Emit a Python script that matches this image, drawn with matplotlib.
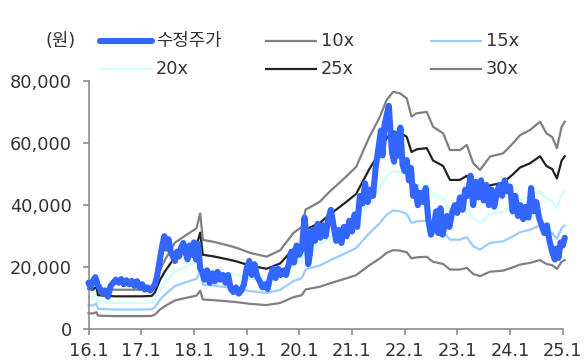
import matplotlib
matplotlib.use("Agg")
import matplotlib.pyplot as plt
from matplotlib.lines import Line2D
import numpy as np

plt.rcParams['font.family'] = ['DejaVu Sans', 'Noto Sans CJK KR']

# x positions are years elapsed since Jan 2016
tick_labels = ["16.1", "17.1", "18.1", "19.1", "20.1", "21.1", "22.1", "23.1", "24.1", "25.1"]

# trailing EPS (원) used for the PER bands
eps_t = [0.00, 0.08, 0.15, 0.18, 0.50, 1.00, 1.20, 1.26, 1.36, 1.45, 1.64, 1.86, 2.05, 2.12,
         2.17, 2.37, 2.62, 2.81, 3.07, 3.38, 3.64, 3.89, 4.05, 4.12, 4.39, 4.58, 4.89, 5.08,
         5.33, 5.52, 5.66, 5.78, 5.91, 6.04, 6.13, 6.23, 6.42, 6.54, 6.73, 6.86, 7.05, 7.18,
         7.30, 7.43, 7.62, 7.87, 8.06, 8.19, 8.38, 8.57, 8.69, 8.80, 8.89, 8.98, 9.04]
eps = [520, 510, 550, 440, 425, 425, 430, 475, 640, 745, 930, 1015, 1085, 1245,
       960, 940, 905, 875, 820, 780, 850, 1035, 1100, 1285, 1370, 1480, 1640, 1745,
       2065, 2270, 2465, 2550, 2535, 2480, 2285, 2320, 2335, 2175, 2105, 1925, 1925, 1980,
       1785, 1710, 1855, 1890, 2000, 2085, 2140, 2230, 2105, 2065, 1945, 2175, 2230]

multiples = [10, 15, 20, 25, 30]
band_names = ["10x", "15x", "20x", "25x", "30x"]
band_colors = ["#808080", "#99CCFF", "#CCFFFF", "#222222", "#808080"]

# adjusted share price (원)
price_t = [0.00, 0.04, 0.08, 0.13, 0.17, 0.22, 0.27, 0.32, 0.37, 0.42, 0.47, 0.52, 0.57, 0.62,
           0.67, 0.72, 0.77, 0.82, 0.87, 0.92, 0.97, 1.02, 1.07, 1.12, 1.17, 1.22, 1.26, 1.30,
           1.35, 1.40, 1.44, 1.48, 1.52, 1.56, 1.60, 1.64, 1.68, 1.72, 1.76, 1.80, 1.84, 1.88,
           1.92, 1.96, 2.00, 2.04, 2.08, 2.12, 2.16, 2.20, 2.25, 2.30, 2.35, 2.40, 2.45, 2.50,
           2.55, 2.60, 2.65, 2.70, 2.75, 2.80, 2.85, 2.90, 2.95, 3.00, 3.05, 3.10, 3.15, 3.20,
           3.25, 3.30, 3.35, 3.40, 3.45, 3.50, 3.55, 3.60, 3.65, 3.70, 3.75, 3.80, 3.85, 3.90,
           3.95, 4.00, 4.05, 4.10, 4.13, 4.17, 4.20, 4.25, 4.30, 4.35, 4.40, 4.45, 4.50, 4.55,
           4.60, 4.65, 4.70, 4.75, 4.80, 4.85, 4.90, 4.95, 5.00, 5.05, 5.10, 5.15, 5.20, 5.25,
           5.30, 5.35, 5.40, 5.45, 5.50, 5.55, 5.58, 5.62, 5.66, 5.70, 5.73, 5.76, 5.80, 5.84,
           5.88, 5.92, 5.96, 6.00, 6.04, 6.08, 6.12, 6.16, 6.20, 6.25, 6.30, 6.35, 6.40, 6.45,
           6.50, 6.55, 6.60, 6.64, 6.68, 6.72, 6.76, 6.80, 6.85, 6.90, 6.95, 7.00, 7.05, 7.10,
           7.15, 7.20, 7.25, 7.30, 7.35, 7.40, 7.45, 7.50, 7.55, 7.60, 7.65, 7.70, 7.75, 7.80,
           7.85, 7.90, 7.95, 8.00, 8.05, 8.10, 8.15, 8.20, 8.25, 8.30, 8.35, 8.40, 8.45, 8.50,
           8.55, 8.60, 8.65, 8.70, 8.75, 8.80, 8.85, 8.88, 8.92, 8.96, 9.00, 9.04]
price = [15000, 13500, 15500, 16800, 14500, 13000, 11500, 12500, 10500, 14000, 15000, 16000, 15000, 16200,
         14500, 15800, 14500, 15600, 14000, 15500, 13500, 14500, 12800, 13500, 12500, 13500, 14500, 17000,
         22000, 27000, 30000, 26000, 29000, 25000, 23500, 22000, 25000, 23500, 26500, 27800, 25000, 22500,
         27000, 24000, 28000, 22500, 27500, 19500, 18500, 16000, 19000, 15000, 18000, 15500, 18500, 16000,
         17500, 15000, 17500, 13000, 12000, 13500, 11500, 12500, 14500, 19500, 22000, 17500, 21000, 17000,
         15500, 13500, 14500, 13000, 17000, 19500, 16500, 19500, 17500, 19000, 17500, 21000, 25000, 21500,
         27000, 24000, 26000, 36000, 31000, 21000, 24000, 32000, 28500, 34000, 29500, 33500, 30000, 35500,
         38500, 33500, 28500, 32000, 27800, 33000, 30000, 35000, 31500, 37000, 33000, 43000, 40500, 47000,
         41000, 45000, 43000, 52000, 58000, 64000, 56000, 66000, 69000, 72000, 64000, 57000, 54000, 63000,
         56000, 65000, 53000, 51000, 54500, 48000, 52000, 43000, 46000, 40000, 44000, 41000, 45500, 35000,
         30500, 33000, 38000, 31000, 39000, 30500, 33500, 36500, 33000, 37500, 40000, 37500, 42500, 38500,
         45000, 43000, 49500, 40000, 47500, 42500, 48000, 41500, 46500, 40000, 45000, 39500, 44000, 46500,
         43000, 48000, 44500, 46000, 38000, 43000, 36500, 40000, 35500, 39500, 36000, 45500, 38000, 41000,
         36000, 33500, 31000, 33500, 28500, 25000, 22500, 26000, 23000, 28000, 27000, 29500]

W, H = 585, 363
fig = plt.figure(figsize=(W / 100, H / 100), dpi=100)
ax = fig.add_axes([88.5 / W, 1 - 329.3 / H, (562.7 - 88.5) / W, (329.3 - 81) / H])

price_color = "#3366FF"
eps_arr = np.array(eps, dtype=float)
for m, name, c in zip(multiples, band_names, band_colors):
    ax.plot(eps_t, eps_arr * m, color=c, lw=1.6, clip_on=False, zorder=2)

ax.plot(price_t, price, color=price_color, lw=4.4, solid_capstyle="round",
        solid_joinstyle="round", clip_on=False, zorder=3)

ax.set_xlim(0, 9)
ax.set_ylim(0, 80000)
ax.set_xticks(range(len(tick_labels)))
ax.set_xticklabels(tick_labels)
ax.set_yticks([0, 20000, 40000, 60000, 80000])
ax.set_yticklabels(["0", "20,000", "40,000", "60,000", "80,000"])

for s in ["top", "right"]:
    ax.spines[s].set_visible(False)
for s in ["left", "bottom"]:
    ax.spines[s].set_color("#8c8c8c")
    ax.spines[s].set_linewidth(1.2)
ax.tick_params(axis="both", colors="#8c8c8c", length=4, width=1.2, labelsize=12.8,
               labelcolor="#333333")
ax.tick_params(axis="y", pad=8)
ax.tick_params(axis="x", pad=5)

txt_kw = dict(fontsize=12.8, color="#333333", va="center")
fig.text(61 / W, 1 - 41 / H, "(원)", ha="center", **txt_kw)

# legend drawn by hand: three columns, two rows
legend_items = [
    ("수정주가", price_color, 4.4, 100, 41),
    ("10x", band_colors[0], 1.6, 265, 41),
    ("15x", band_colors[1], 1.6, 430, 41),
    ("20x", band_colors[2], 1.6, 100, 69),
    ("25x", band_colors[3], 1.6, 265, 69),
    ("30x", band_colors[4], 1.6, 430, 69),
]
for label, c, lw, x0, y0 in legend_items:
    yy = 1 - y0 / H
    fig.add_artist(Line2D([x0 / W, (x0 + 52) / W], [yy, yy], color=c, lw=lw,
                          solid_capstyle="round" if lw > 3 else "butt"))
    fig.text((x0 + 56) / W, yy, label, ha="left", **txt_kw)

fig.savefig("out.png", dpi=100)
